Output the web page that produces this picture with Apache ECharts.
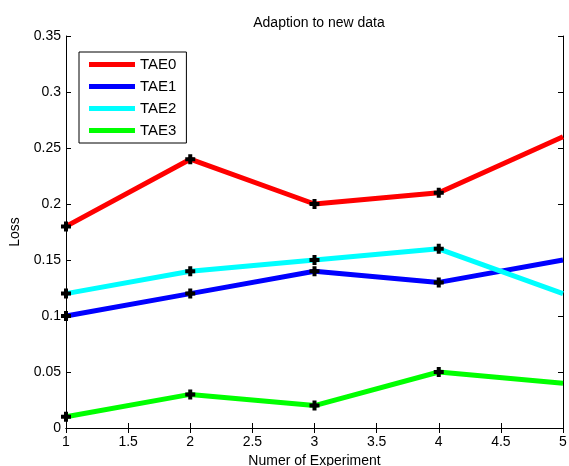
<!DOCTYPE html>
<html>
<head>
<meta charset="utf-8">
<script src="https://cdn.jsdelivr.net/npm/echarts@6/dist/echarts.min.js"></script>
<style>
html, body { margin: 0; padding: 0; background: #fff; }
#chart { width: 569px; height: 466px; }
</style>
</head>
<body>
<div id="chart"></div>
<script>
// x positions (experiment number)
const experiments = [1, 2, 3, 4, 5];
const tae0 = [0.18, 0.24, 0.20, 0.21, 0.26];
const tae1 = [0.10, 0.12, 0.14, 0.13, 0.15];
const tae2 = [0.12, 0.14, 0.15, 0.16, 0.12];
const tae3 = [0.01, 0.03, 0.02, 0.05, 0.04];
const seriesNames = ['TAE0', 'TAE1', 'TAE2', 'TAE3'];
const seriesColors = ['#ff0000', '#0000ff', '#00ffff', '#00ff00'];

// thick plus marker like matlab '+'
const plusPath = 'path://M3,0 L7,0 L7,3 L10,3 L10,7 L7,7 L7,10 L3,10 L3,7 L0,7 L0,3 L3,3 Z';
const font = 'Liberation Sans';

function toPoints(vals) {
	return vals.map((v, i) => {
		const item = { value: [experiments[i], v], itemStyle: { color: '#000' } };
		if (i === vals.length - 1) item.symbol = 'none'; // no marker at last point
		return item;
	});
}

const allData = [tae0, tae1, tae2, tae3];

const chart = echarts.init(document.getElementById('chart'));

const axisCommon = {
	axisLine: { lineStyle: { color: '#000', width: 1 } },
	axisTick: { inside: true, length: 5, lineStyle: { color: '#000' } },
	splitLine: { show: false }
};

chart.setOption({
	animation: false,
	title: {
		text: 'Adaption to new data',
		left: 314,
		top: 11,
		textAlign: 'center',
		textStyle: { fontFamily: font, fontSize: 14, fontWeight: 'normal', color: '#000' }
	},
	legend: {
		orient: 'vertical',
		left: 79,
		top: 52,
		padding: [5, 10, 5, 10],
		itemWidth: 46,
		itemHeight: 5,
		itemGap: 7,
		borderColor: '#000',
		borderWidth: 1,
		backgroundColor: '#fff',
		textStyle: { fontFamily: font, fontSize: 15, color: '#000' },
		data: seriesNames.map((n, k) => ({ name: n, icon: 'rect', itemStyle: { color: seriesColors[k] } }))
	},
	grid: { left: 66, right: 6, top: 36, bottom: 38, outerBoundsMode: 'none' },
	xAxis: [
		Object.assign({}, axisCommon, {
			type: 'value', min: 1, max: 5, interval: 0.5,
			name: 'Numer of Experiment',
			nameLocation: 'middle',
			nameGap: 26,
			nameTextStyle: { fontFamily: font, fontSize: 14, color: '#000' },
			axisLabel: { color: '#000', fontFamily: font, fontSize: 14, margin: 7 }
		}),
		Object.assign({}, axisCommon, {
			type: 'value', min: 1, max: 5, interval: 0.5, position: 'top',
			axisLabel: { show: false }
		})
	],
	yAxis: [
		Object.assign({}, axisCommon, {
			type: 'value', min: 0, max: 0.35, interval: 0.05,
			name: 'Loss',
			nameLocation: 'middle',
			nameGap: 44,
			nameTextStyle: { fontFamily: font, fontSize: 14, color: '#000' },
			axisLabel: { color: '#000', fontFamily: font, fontSize: 14, margin: 5 }
		}),
		Object.assign({}, axisCommon, {
			type: 'value', min: 0, max: 0.35, interval: 0.05, position: 'right',
			axisLabel: { show: false }
		})
	],
	series: seriesNames.map((name, k) => ({
		name: name,
		type: 'line',
		data: toPoints(allData[k]),
		symbol: plusPath,
		symbolSize: 10,
		showAllSymbol: true,
		itemStyle: { color: seriesColors[k] },
		lineStyle: { color: seriesColors[k], width: 5 },
		z: 2 + k
	}))
});
</script>
</body>
</html>
